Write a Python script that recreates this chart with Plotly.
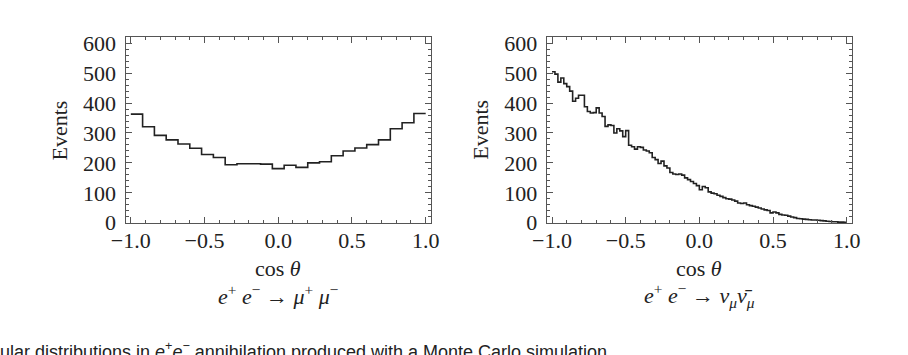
import numpy as np
import plotly.graph_objects as go

# ---------------- data ----------------
# left panel: e+ e- -> mu+ mu-, 25 bins on [-1, 1]
mumu_counts = [363, 321, 292, 277, 263, 249, 228, 218, 194, 197, 197, 196, 181,
               192, 185, 200, 204, 224, 240, 250, 261, 277, 314, 334, 365]
# right panel: e+ e- -> nu_mu nubar_mu, 100 bins on [-1, 1]
nunu_counts = [505, 497, 470, 484, 465, 455, 440, 406, 416, 426,
               426, 388, 372, 367, 368, 384, 367, 355, 322, 327,
               325, 300, 314, 307, 288, 308, 259, 254, 246, 254,
               252, 243, 240, 234, 218, 211, 198, 206, 190, 183,
               168, 163, 161, 163, 159, 150, 144, 138, 131, 124,
               110, 121, 117, 103, 99, 97, 92, 88, 84, 80,
               79, 76, 72, 66, 64, 66, 60, 57, 55, 52,
               49, 46, 43, 41, 33, 36, 33, 28, 26, 25,
               22, 19, 17, 14, 13, 12, 11, 10, 9, 9,
               8, 7, 6, 5, 4, 3, 3, 2, 2, 1]
x_range = [-1.0, 1.0]
x_ticks = [-1.0, -0.5, 0.0, 0.5, 1.0]
y_ticks = [0, 100, 200, 300, 400, 500, 600]
y_title = "Events"
x_title = "cos <i>θ</i>"
left_sub = "<i>e</i><sup>+</sup> <i>e</i><sup>−</sup> → <i>μ</i><sup>+</sup> <i>μ</i><sup>−</sup>"
right_sub = "<i>e</i><sup>+</sup> <i>e</i><sup>−</sup> → <i>ν</i><sub><i>μ</i></sub><i>ν̄</i><sub><i>μ</i></sub>"
caption = "ular distributions in <i>e</i><sup>+</sup><i>e</i><sup>−</sup> annihilation produced with a Monte Carlo simulation"

# ---------------- figure ----------------
W, H = 908, 355
SERIF = "Liberation Serif, Times New Roman, serif"
LINE = "#222222"
FRAME = "#555555"
FS = 22


def step_xy(counts):
    edges = np.linspace(x_range[0], x_range[1], len(counts) + 1)
    ys = list(counts) + [counts[-1]]
    return edges, ys


fig = go.Figure()
for counts, ax in [(mumu_counts, ("x", "y")), (nunu_counts, ("x2", "y2"))]:
    ex, ey = step_xy(counts)
    fig.add_trace(go.Scatter(x=ex, y=ey, mode="lines", line_shape="hv",
                             line=dict(color=LINE, width=1.6),
                             xaxis=ax[0], yaxis=ax[1], showlegend=False,
                             hoverinfo="skip"))

# panel frames in pixels
L1, R1 = 125.5, 431.0
L2, R2 = 546.7, 852.0
TOP, BOT = 37.0, 223.0

common_x = dict(range=[-1.036, 1.036], tickvals=x_ticks, tickformat=".1f",
                ticks="inside", ticklen=6, tickwidth=1, tickcolor=FRAME,
                showline=True, linecolor=FRAME, linewidth=1, mirror="allticks",
                showgrid=False, zeroline=False, automargin=False, ticklabelstandoff=-2,
                minor=dict(ticks="inside", dtick=0.1, ticklen=3, tickcolor=FRAME, showgrid=False),
                tickfont=dict(family=SERIF, size=FS, color="#222222"))
common_y = dict(range=[-1, 621], tickvals=y_ticks,
                ticks="inside", ticklen=6, tickwidth=1, tickcolor=FRAME,
                showline=True, linecolor=FRAME, linewidth=1, mirror="allticks",
                showgrid=False, zeroline=False, automargin=False, ticklabelstandoff=4,
                minor=dict(ticks="inside", dtick=20, ticklen=3, tickcolor=FRAME, showgrid=False),
                tickfont=dict(family=SERIF, size=FS, color="#222222"))

ydom = [1 - BOT / H, 1 - TOP / H]
fig.update_layout(
    width=W, height=H, margin=dict(l=0, r=0, t=0, b=0, pad=0, autoexpand=False),
    paper_bgcolor="white", plot_bgcolor="white",
    xaxis=dict(domain=[L1 / W, R1 / W], anchor="y", **common_x),
    yaxis=dict(domain=ydom, anchor="x", **common_y),
    xaxis2=dict(domain=[L2 / W, R2 / W], anchor="y2", **common_x),
    yaxis2=dict(domain=ydom, anchor="x2", **common_y),
)

ann = []
for L, R, sub in [(L1, R1, left_sub), (L2, R2, right_sub)]:
    cx = (L + R) / 2 / W
    ann.append(dict(text=y_title, x=(L - 66) / W, y=1 - 130 / H, xref="paper", yref="paper",
                    textangle=-90, showarrow=False, xanchor="center", yanchor="middle",
                    font=dict(family=SERIF, size=FS, color="#222222")))
    ann.append(dict(text=x_title, x=cx, y=1 - 268 / H, xref="paper", yref="paper",
                    showarrow=False, xanchor="center", yanchor="middle",
                    font=dict(family=SERIF, size=FS, color="#222222")))
    ann.append(dict(text=sub, x=cx, y=1 - 295 / H, xref="paper", yref="paper",
                    showarrow=False, xanchor="center", yanchor="middle",
                    font=dict(family=SERIF, size=FS, color="#222222")))
ann.append(dict(text=caption, x=-2 / W, y=1 - 337 / H, xref="paper", yref="paper",
                showarrow=False, xanchor="left", yanchor="top",
                font=dict(family="Liberation Sans, Arial, sans-serif", size=18, color="#222222")))
fig.update_layout(annotations=ann)

fig.write_html("out.html", config={"displayModeBar": False},
               post_script="document.body.style.margin='0';")
